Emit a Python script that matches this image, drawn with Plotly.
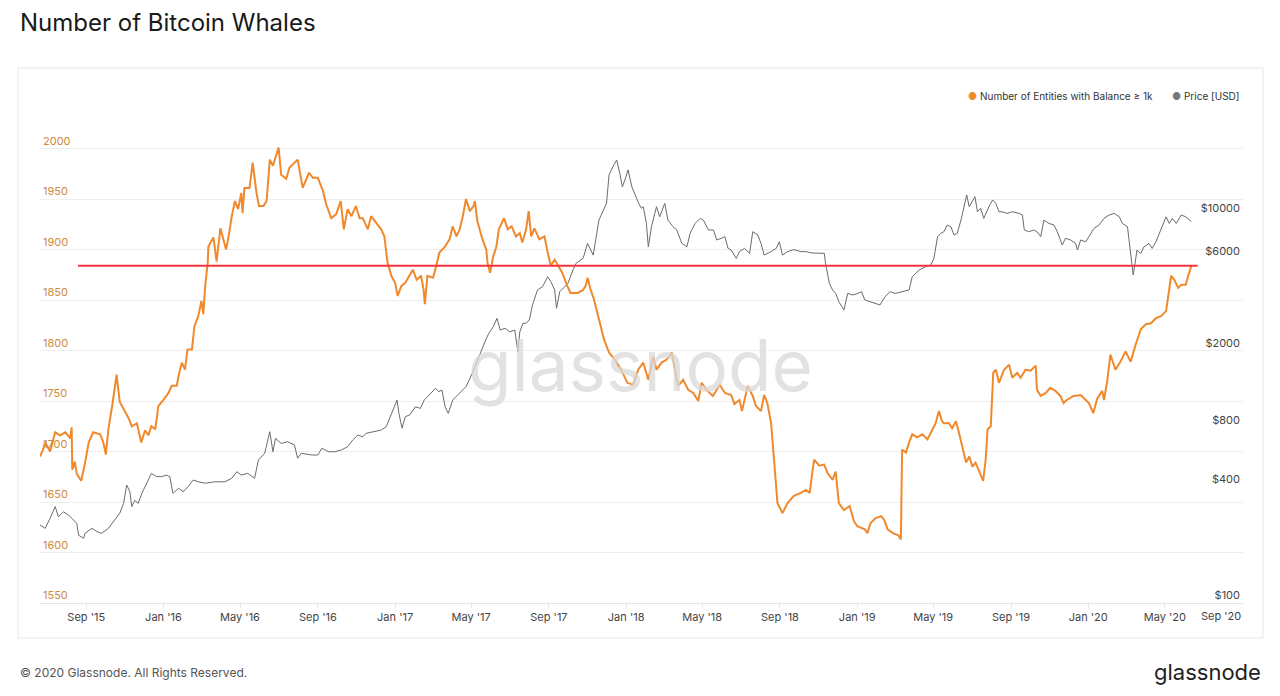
import plotly.graph_objects as go

# ---------------- data ----------------
whale_points = [
    ("2015-06-20", 1695), ("2015-06-25", 1702), ("2015-06-28", 1709), ("2015-07-06", 1700),
    ("2015-07-14", 1719), ("2015-07-22", 1716), ("2015-07-30", 1719), ("2015-08-07", 1713),
    ("2015-08-09", 1724), ("2015-08-10", 1682), ("2015-08-14", 1690), ("2015-08-17", 1678),
    ("2015-08-24", 1671), ("2015-08-30", 1688), ("2015-09-05", 1709), ("2015-09-12", 1719),
    ("2015-09-23", 1717), ("2015-09-28", 1709), ("2015-10-02", 1697), ("2015-10-06", 1722),
    ("2015-10-12", 1745), ("2015-10-19", 1776), ("2015-10-24", 1749), ("2015-11-01", 1739),
    ("2015-11-07", 1733), ("2015-11-12", 1725), ("2015-11-20", 1728), ("2015-11-27", 1709),
    ("2015-12-03", 1721), ("2015-12-08", 1716), ("2015-12-13", 1725), ("2015-12-19", 1722),
    ("2015-12-24", 1745), ("2016-01-01", 1751), ("2016-01-09", 1758), ("2016-01-14", 1765),
    ("2016-01-22", 1765), ("2016-01-25", 1775), ("2016-01-30", 1788), ("2016-02-04", 1781),
    ("2016-02-08", 1801), ("2016-02-15", 1801), ("2016-02-19", 1824), ("2016-02-25", 1834),
    ("2016-03-01", 1849), ("2016-03-04", 1836), ("2016-03-07", 1864), ("2016-03-11", 1887),
    ("2016-03-12", 1903), ("2016-03-20", 1912), ("2016-03-25", 1888), ("2016-03-31", 1921),
    ("2016-04-05", 1910), ("2016-04-09", 1900), ("2016-04-13", 1913), ("2016-04-18", 1933),
    ("2016-04-23", 1948), ("2016-04-28", 1940), ("2016-05-03", 1956), ("2016-05-05", 1936),
    ("2016-05-08", 1961), ("2016-05-16", 1961), ("2016-05-21", 1986), ("2016-05-27", 1956),
    ("2016-05-31", 1943), ("2016-06-07", 1943), ("2016-06-12", 1948), ("2016-06-17", 1989),
    ("2016-06-22", 1983), ("2016-06-27", 1993), ("2016-07-01", 2001), ("2016-07-05", 1974),
    ("2016-07-13", 1970), ("2016-07-18", 1981), ("2016-07-26", 1986), ("2016-07-31", 1989),
    ("2016-08-08", 1961), ("2016-08-13", 1969), ("2016-08-18", 1976), ("2016-08-24", 1971),
    ("2016-09-01", 1971), ("2016-09-09", 1958), ("2016-09-14", 1945), ("2016-09-22", 1931),
    ("2016-09-30", 1935), ("2016-10-07", 1948), ("2016-10-12", 1920), ("2016-10-18", 1940),
    ("2016-10-24", 1933), ("2016-10-31", 1943), ("2016-11-06", 1931), ("2016-11-11", 1931),
    ("2016-11-16", 1923), ("2016-11-19", 1920), ("2016-11-24", 1933), ("2016-12-03", 1926),
    ("2016-12-10", 1920), ("2016-12-15", 1913), ("2016-12-20", 1887), ("2016-12-26", 1874),
    ("2017-01-01", 1867), ("2017-01-05", 1854), ("2017-01-11", 1864), ("2017-01-17", 1867),
    ("2017-01-24", 1874), ("2017-01-29", 1880), ("2017-02-04", 1870), ("2017-02-11", 1874),
    ("2017-02-15", 1860), ("2017-02-17", 1846), ("2017-02-21", 1874), ("2017-03-02", 1872),
    ("2017-03-07", 1884), ("2017-03-12", 1897), ("2017-03-21", 1903), ("2017-03-28", 1910),
    ("2017-04-02", 1923), ("2017-04-08", 1913), ("2017-04-13", 1920), ("2017-04-18", 1933),
    ("2017-04-23", 1950), ("2017-04-29", 1938), ("2017-05-05", 1943), ("2017-05-07", 1948),
    ("2017-05-11", 1928), ("2017-05-19", 1910), ("2017-05-25", 1900), ("2017-05-27", 1887),
    ("2017-05-31", 1877), ("2017-06-05", 1893), ("2017-06-10", 1903), ("2017-06-14", 1920),
    ("2017-06-22", 1931), ("2017-06-28", 1920), ("2017-07-04", 1923), ("2017-07-11", 1913),
    ("2017-07-17", 1916), ("2017-07-21", 1907), ("2017-07-27", 1920), ("2017-07-31", 1938),
    ("2017-08-04", 1913), ("2017-08-09", 1921), ("2017-08-17", 1910), ("2017-08-25", 1913),
    ("2017-08-30", 1897), ("2017-09-04", 1884), ("2017-09-10", 1890), ("2017-09-15", 1884),
    ("2017-09-22", 1877), ("2017-09-30", 1864), ("2017-10-05", 1857), ("2017-10-17", 1857),
    ("2017-10-25", 1860), ("2017-10-29", 1864), ("2017-11-01", 1872), ("2017-11-06", 1860),
    ("2017-11-11", 1851), ("2017-11-19", 1831), ("2017-11-27", 1811), ("2017-12-05", 1798),
    ("2017-12-14", 1791), ("2017-12-24", 1781), ("2018-01-03", 1768), ("2018-01-12", 1766),
    ("2018-01-20", 1781), ("2018-01-28", 1788), ("2018-02-05", 1771), ("2018-02-13", 1794),
    ("2018-02-18", 1781), ("2018-02-26", 1788), ("2018-03-06", 1791), ("2018-03-14", 1798),
    ("2018-03-19", 1781), ("2018-03-24", 1765), ("2018-04-01", 1771), ("2018-04-09", 1761),
    ("2018-04-17", 1758), ("2018-04-25", 1750), ("2018-04-30", 1768), ("2018-05-08", 1761),
    ("2018-05-18", 1755), ("2018-05-29", 1766), ("2018-06-06", 1758), ("2018-06-16", 1756),
    ("2018-06-21", 1747), ("2018-06-29", 1751), ("2018-07-03", 1740), ("2018-07-12", 1765),
    ("2018-07-20", 1755), ("2018-07-25", 1745), ("2018-08-02", 1740), ("2018-08-07", 1756),
    ("2018-08-12", 1748), ("2018-08-18", 1728), ("2018-08-23", 1689), ("2018-08-26", 1659),
    ("2018-08-28", 1649), ("2018-09-05", 1639), ("2018-09-13", 1649), ("2018-09-23", 1656),
    ("2018-10-04", 1659), ("2018-10-12", 1662), ("2018-10-18", 1659), ("2018-10-22", 1679),
    ("2018-10-25", 1692), ("2018-11-02", 1686), ("2018-11-10", 1687), ("2018-11-15", 1679),
    ("2018-11-23", 1672), ("2018-11-28", 1680), ("2018-12-03", 1649), ("2018-12-11", 1642),
    ("2018-12-20", 1646), ("2018-12-27", 1631), ("2019-01-01", 1626), ("2019-01-13", 1623),
    ("2019-01-17", 1619), ("2019-01-22", 1629), ("2019-01-30", 1634), ("2019-02-08", 1636),
    ("2019-02-13", 1632), ("2019-02-18", 1623), ("2019-02-27", 1619), ("2019-03-07", 1617),
    ("2019-03-11", 1613), ("2019-03-13", 1702), ("2019-03-19", 1699), ("2019-03-24", 1709),
    ("2019-03-29", 1717), ("2019-04-06", 1714), ("2019-04-14", 1717), ("2019-04-22", 1712),
    ("2019-04-30", 1722), ("2019-05-05", 1728), ("2019-05-10", 1740), ("2019-05-15", 1730),
    ("2019-05-18", 1728), ("2019-05-26", 1728), ("2019-05-31", 1723), ("2019-06-06", 1730),
    ("2019-06-11", 1718), ("2019-06-16", 1705), ("2019-06-22", 1689), ("2019-06-27", 1695),
    ("2019-07-02", 1685), ("2019-07-07", 1689), ("2019-07-15", 1676), ("2019-07-19", 1671),
    ("2019-07-23", 1692), ("2019-07-26", 1722), ("2019-07-31", 1725), ("2019-08-04", 1778),
    ("2019-08-08", 1781), ("2019-08-13", 1768), ("2019-08-21", 1781), ("2019-08-29", 1786),
    ("2019-09-03", 1773), ("2019-09-11", 1778), ("2019-09-16", 1773), ("2019-09-24", 1781),
    ("2019-10-02", 1780), ("2019-10-10", 1785), ("2019-10-12", 1761), ("2019-10-18", 1755),
    ("2019-10-26", 1758), ("2019-11-02", 1763), ("2019-11-10", 1760), ("2019-11-18", 1755),
    ("2019-11-23", 1748), ("2019-11-28", 1751), ("2019-12-09", 1755), ("2019-12-20", 1756),
    ("2019-12-28", 1751), ("2020-01-02", 1748), ("2020-01-09", 1738), ("2020-01-15", 1752),
    ("2020-01-23", 1760), ("2020-01-26", 1751), ("2020-01-31", 1770), ("2020-02-05", 1796),
    ("2020-02-13", 1781), ("2020-02-21", 1789), ("2020-02-29", 1799), ("2020-03-08", 1789),
    ("2020-03-16", 1806), ("2020-03-24", 1821), ("2020-04-01", 1826), ("2020-04-09", 1827),
    ("2020-04-17", 1832), ("2020-04-25", 1834), ("2020-05-03", 1839), ("2020-05-06", 1851),
    ("2020-05-11", 1874), ("2020-05-16", 1870), ("2020-05-22", 1862), ("2020-05-27", 1865),
    ("2020-06-03", 1865), ("2020-06-07", 1874), ("2020-06-12", 1884),
]

price_points = [
    ("2015-06-20", 253), ("2015-06-28", 243), ("2015-07-06", 274), ("2015-07-14", 315),
    ("2015-07-19", 279), ("2015-07-27", 296), ("2015-08-04", 285), ("2015-08-09", 274),
    ("2015-08-17", 258), ("2015-08-20", 224), ("2015-08-28", 216), ("2015-08-30", 229),
    ("2015-09-10", 243), ("2015-09-18", 234), ("2015-09-25", 229), ("2015-10-06", 243),
    ("2015-10-16", 268), ("2015-10-24", 291), ("2015-10-30", 327), ("2015-11-04", 407),
    ("2015-11-09", 376), ("2015-11-12", 315), ("2015-11-17", 340), ("2015-11-22", 327),
    ("2015-11-28", 369), ("2015-12-05", 416), ("2015-12-13", 468), ("2015-12-21", 450),
    ("2015-12-29", 450), ("2016-01-06", 458), ("2016-01-11", 450), ("2016-01-16", 369),
    ("2016-01-25", 392), ("2016-02-01", 376), ("2016-02-09", 399), ("2016-02-17", 432),
    ("2016-02-25", 423), ("2016-03-07", 416), ("2016-03-22", 423), ("2016-04-07", 423),
    ("2016-04-18", 441), ("2016-04-26", 477), ("2016-05-03", 458), ("2016-05-13", 468),
    ("2016-05-24", 441), ("2016-05-30", 548), ("2016-06-09", 594), ("2016-06-17", 768),
    ("2016-06-22", 605), ("2016-06-26", 710), ("2016-07-05", 668), ("2016-07-15", 682),
    ("2016-07-26", 656), ("2016-07-31", 560), ("2016-08-06", 594), ("2016-08-22", 582),
    ("2016-09-01", 582), ("2016-09-07", 630), ("2016-09-18", 605), ("2016-09-28", 605),
    ("2016-10-08", 618), ("2016-10-18", 642), ("2016-10-26", 695), ("2016-11-03", 738),
    ("2016-11-11", 723), ("2016-11-16", 753), ("2016-11-30", 768), ("2016-12-10", 783),
    ("2016-12-18", 815), ("2016-12-24", 918), ("2016-12-29", 994), ("2017-01-04", 1119),
    ("2017-01-07", 955), ("2017-01-12", 800), ("2017-01-17", 918), ("2017-01-24", 937),
    ("2017-02-02", 1033), ("2017-02-10", 1014), ("2017-02-16", 1119), ("2017-02-26", 1213),
    ("2017-03-06", 1288), ("2017-03-11", 1236), ("2017-03-16", 1262), ("2017-03-21", 1033),
    ("2017-03-26", 955), ("2017-04-02", 1119), ("2017-04-10", 1189), ("2017-04-16", 1236),
    ("2017-04-23", 1313), ("2017-05-03", 1539), ("2017-05-11", 1803), ("2017-05-18", 2030),
    ("2017-05-24", 2285), ("2017-05-29", 2475), ("2017-06-05", 2680), ("2017-06-11", 2960),
    ("2017-06-16", 2575), ("2017-06-24", 2630), ("2017-07-01", 2520), ("2017-07-09", 2575),
    ("2017-07-14", 1990), ("2017-07-17", 2520), ("2017-07-22", 2790), ("2017-07-27", 2790),
    ("2017-08-01", 2904), ("2017-08-06", 3470), ("2017-08-14", 4150), ("2017-08-22", 4315),
    ("2017-08-30", 4856), ("2017-09-04", 4580), ("2017-09-10", 4150), ("2017-09-13", 3336),
    ("2017-09-18", 4063), ("2017-09-26", 4315), ("2017-10-01", 4487), ("2017-10-09", 5260),
    ("2017-10-14", 5700), ("2017-10-25", 6040), ("2017-11-01", 7220), ("2017-11-10", 6280),
    ("2017-11-15", 7820), ("2017-11-19", 9530), ("2017-12-01", 11630), ("2017-12-05", 16300),
    ("2017-12-11", 17990), ("2017-12-17", 19470), ("2017-12-22", 16630), ("2017-12-26", 14150),
    ("2017-12-30", 15350), ("2018-01-04", 17310), ("2018-01-10", 14150), ("2018-01-15", 12800),
    ("2018-01-20", 11800), ("2018-01-25", 10970), ("2018-01-28", 11170), ("2018-02-02", 9160),
    ("2018-02-05", 6930), ("2018-02-10", 8810), ("2018-02-18", 11170), ("2018-02-23", 9910),
    ("2018-03-03", 11630), ("2018-03-08", 9530), ("2018-03-16", 8810), ("2018-03-22", 8470),
    ("2018-03-30", 7220), ("2018-04-07", 6930), ("2018-04-12", 8140), ("2018-04-20", 9160),
    ("2018-04-28", 9730), ("2018-05-03", 9530), ("2018-05-11", 8470), ("2018-05-19", 8470),
    ("2018-05-24", 7520), ("2018-06-01", 7680), ("2018-06-06", 7820), ("2018-06-11", 6800),
    ("2018-06-16", 6670), ("2018-06-24", 6040), ("2018-06-29", 6550), ("2018-07-07", 6800),
    ("2018-07-15", 6410), ("2018-07-20", 8300), ("2018-07-28", 7980), ("2018-08-02", 7220),
    ("2018-08-07", 6280), ("2018-08-18", 6550), ("2018-08-26", 6800), ("2018-08-31", 7360),
    ("2018-09-05", 6280), ("2018-09-13", 6550), ("2018-09-23", 6700), ("2018-10-04", 6550),
    ("2018-10-12", 6550), ("2018-10-20", 6450), ("2018-11-02", 6410), ("2018-11-10", 6410),
    ("2018-11-12", 5700), ("2018-11-18", 4487), ("2018-11-23", 4150), ("2018-11-28", 3981),
    ("2018-12-03", 3610), ("2018-12-11", 3268), ("2018-12-17", 3981), ("2018-12-25", 3906),
    ("2019-01-02", 3981), ("2019-01-08", 4063), ("2019-01-13", 3683), ("2019-01-21", 3610),
    ("2019-01-29", 3540), ("2019-02-06", 3470), ("2019-02-14", 3830), ("2019-02-22", 4063),
    ("2019-03-02", 3981), ("2019-03-11", 4063), ("2019-03-24", 4150), ("2019-03-29", 4856),
    ("2019-04-09", 5260), ("2019-04-19", 5470), ("2019-04-27", 5580), ("2019-05-02", 6000),
    ("2019-05-08", 7820), ("2019-05-13", 8140), ("2019-05-18", 8300), ("2019-05-23", 8980),
    ("2019-05-29", 8810), ("2019-06-03", 7980), ("2019-06-08", 8140), ("2019-06-14", 9530),
    ("2019-06-19", 11170), ("2019-06-23", 12850), ("2019-06-27", 11170), ("2019-07-02", 11870),
    ("2019-07-06", 12590), ("2019-07-10", 10520), ("2019-07-15", 10970), ("2019-07-20", 9730),
    ("2019-07-28", 11170), ("2019-08-03", 12110), ("2019-08-08", 11630), ("2019-08-13", 10520),
    ("2019-08-18", 10520), ("2019-08-26", 10320), ("2019-09-03", 10520), ("2019-09-14", 10320),
    ("2019-09-19", 10120), ("2019-09-22", 8470), ("2019-09-29", 8300), ("2019-10-07", 8470),
    ("2019-10-12", 8300), ("2019-10-18", 7820), ("2019-10-23", 9530), ("2019-10-31", 9160),
    ("2019-11-08", 8980), ("2019-11-13", 8300), ("2019-11-21", 7080), ("2019-11-26", 7680),
    ("2019-12-04", 7520), ("2019-12-12", 7220), ("2019-12-15", 6670), ("2019-12-20", 7520),
    ("2019-12-28", 7360), ("2020-01-02", 7820), ("2020-01-10", 8630), ("2020-01-18", 8980),
    ("2020-01-26", 9730), ("2020-02-03", 10120), ("2020-02-11", 10320), ("2020-02-19", 9910),
    ("2020-02-24", 9160), ("2020-03-03", 8810), ("2020-03-08", 6160), ("2020-03-12", 4960),
    ("2020-03-15", 5700), ("2020-03-18", 6670), ("2020-03-24", 6410), ("2020-03-29", 6930),
    ("2020-04-06", 7220), ("2020-04-11", 6800), ("2020-04-17", 7360), ("2020-04-25", 8470),
    ("2020-05-03", 9910), ("2020-05-08", 9160), ("2020-05-13", 9730), ("2020-05-19", 9160),
    ("2020-05-27", 10120), ("2020-06-03", 9910), ("2020-06-09", 9530), ("2020-06-12", 9360),
]

whale_dates = [d for d, _ in whale_points]
whale_counts = [v for _, v in whale_points]
price_dates = [d for d, _ in price_points]
price_usd = [v for _, v in price_points]

threshold_dates = ["2015-08-19", "2020-06-22"]
threshold_level = [1884, 1884]

left_ticks = [1550, 1600, 1650, 1700, 1750, 1800, 1850, 1900, 1950, 2000, 2050]
left_ticktext = ["1550", "1600", "1650", "1700", "1750", "1800", "1850", "1900", "1950", "2000", ""]
price_ticks = [100, 400, 800, 2000, 6000, 10000]
price_ticktext = ["$100", "$400", "$800", "$2000", "$6000", "$10000"]
x_ticks = ["2015-09-01", "2016-01-01", "2016-05-01", "2016-09-01", "2017-01-01", "2017-05-01",
           "2017-09-01", "2018-01-01", "2018-05-01", "2018-09-01", "2019-01-01", "2019-05-01",
           "2019-09-01", "2020-01-01", "2020-05-01", "2020-09-01"]
x_ticktext = ["Sep '15", "Jan '16", "May '16", "Sep '16", "Jan '17", "May '17", "Sep '17", "Jan '18",
              "May '18", "Sep '18", "Jan '19", "May '19", "Sep '19", "Jan '20", "May '20", ""]
last_tick_label = "Sep '20"

ORANGE = "#F0892B"
GREY = "#6b6b6b"
RED = "#F5333F"
FONT = "Inter, Roboto, 'Noto Sans', sans-serif"

# ---------------- figure ----------------
fig = go.Figure()

fig.add_trace(go.Scatter(
    x=price_dates, y=price_usd, mode="lines", name="Price [USD]",
    line=dict(color=GREY, width=1), yaxis="y", showlegend=False,
))
fig.add_trace(go.Scatter(
    x=whale_dates, y=whale_counts, mode="lines", name="Number of Entities with Balance ≥ 1k",
    line=dict(color=ORANGE, width=2), yaxis="y2", showlegend=False,
))
fig.add_trace(go.Scatter(
    x=threshold_dates, y=threshold_level, mode="lines", name="threshold",
    line=dict(color=RED, width=2), yaxis="y2", showlegend=False, hoverinfo="skip",
))

fig.update_layout(
    width=1280, height=696, autosize=False,
    margin=dict(l=40, r=37, t=98, b=93),
    paper_bgcolor="white", plot_bgcolor="white",
    font=dict(family=FONT, size=11, color="#444"),
    showlegend=False,
    xaxis=dict(
        type="date", range=["2015-06-20", "2020-09-01 12:00"],
        tickvals=x_ticks, ticktext=x_ticktext,
        showgrid=False, zeroline=False,
        showline=True, linecolor="#e6e6e6", linewidth=1,
        ticks="outside", ticklen=4, tickcolor="#e6e6e6",
        tickfont=dict(size=11, color="#444"),
    ),
    yaxis=dict(
        type="log", range=[2, 4.61], side="right",
        tickvals=price_ticks, ticktext=price_ticktext,
        showgrid=False, zeroline=False, showline=False,
        ticklabelposition="inside top",
        tickfont=dict(size=11, color="#444"),
    ),
    yaxis2=dict(
        overlaying="y", side="left", range=[1550, 2050],
        tickvals=left_ticks, ticktext=left_ticktext,
        showgrid=True, gridcolor="#eeeeee", gridwidth=1,
        zeroline=False, showline=False,
        ticklabelposition="inside top",
        tickfont=dict(size=11, color="#D08A3C"),
    ),
)

# panel border
fig.add_shape(type="rect", xref="paper", yref="paper",
              x0=-0.0183, x1=1.0166, y0=-0.0693, y1=1.0594,
              line=dict(color="#e6e6e6", width=1), fillcolor="rgba(0,0,0,0)", layer="below")

# last x tick label kept inside the panel (as in the reference)
fig.add_annotation(text=last_tick_label, xref="paper", yref="paper",
                   x=1.0, y=-0.026, xanchor="right", yanchor="middle", showarrow=False,
                   font=dict(family=FONT, size=11, color="#444"))

# title
fig.add_annotation(text="Number of Bitcoin Whales", xref="paper", yref="paper",
                   x=-0.0183, y=1.1495, xanchor="left", yanchor="middle", showarrow=False,
                   font=dict(family=FONT, size=24, color="#1a1a1a"))

# legend (custom, top right)
fig.add_annotation(text='<span style="color:#F0892B">●</span> Number of Entities with Balance ≥ 1k',
                   xref="paper", yref="paper", x=0.9268, y=1.0040,
                   xanchor="right", yanchor="middle", showarrow=False,
                   font=dict(family=FONT, size=10, color="#333"))
fig.add_annotation(text='<span style="color:#777">●</span> Price [USD]',
                   xref="paper", yref="paper", x=0.9983, y=1.0040,
                   xanchor="right", yanchor="middle", showarrow=False,
                   font=dict(family=FONT, size=10, color="#333"))

# watermark
fig.add_annotation(text="glassnode", xref="paper", yref="paper",
                   x=0.4988, y=0.4713, xanchor="center", yanchor="middle", showarrow=False,
                   font=dict(family=FONT, size=71, color="#d9d9d9"), opacity=0.75)

# footer
fig.add_annotation(text="© 2020 Glassnode. All Rights Reserved.", xref="paper", yref="paper",
                   x=-0.0183, y=-0.1370, xanchor="left", yanchor="middle", showarrow=False,
                   font=dict(family=FONT, size=12, color="#555"))
fig.add_annotation(text="glassnode", xref="paper", yref="paper",
                   x=1.0166, y=-0.1370, xanchor="right", yanchor="middle", showarrow=False,
                   font=dict(family=FONT, size=22, color="#222"))

fig.write_html("out.html",
               config={"displayModeBar": False},
               post_script="document.body.style.margin='0';document.body.style.overflow='hidden';")
